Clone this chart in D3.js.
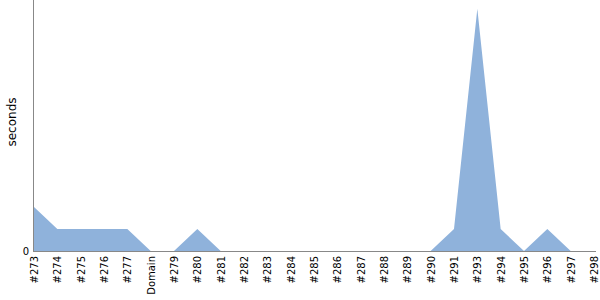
<!DOCTYPE html>
<html>
<head>
<meta charset="utf-8">
<script src="https://cdn.jsdelivr.net/npm/d3@7"></script>
<style>
  body { margin: 0; background: #fff; }
  text { font-family: "DejaVu Sans", sans-serif; }
</style>
</head>
<body>
<svg id="chart" width="600" height="300"></svg>
<script>
// builds shown on the x axis
const builds = ["#273", "#274", "#275", "#276", "#277", "Domain", "#279", "#280", "#281",
  "#282", "#283", "#284", "#285", "#286", "#287", "#288", "#289", "#290", "#291",
  "#293", "#294", "#295", "#296", "#297", "#298"];
// duration in seconds
const seconds = [2, 1, 1, 1, 1, 0, 0, 1, 0,
  0, 0, 0, 0, 0, 0, 0, 0, 0, 1,
  11, 1, 0, 1, 0, 0];
const yTicks = [0];

const svg = d3.select("#chart");
const plotLeft = 33, plotRight = 594, plotTop = 0, plotBottom = 251;

const x = d3.scalePoint().domain(builds).range([plotLeft + 1, plotRight]);
const y = d3.scaleLinear().domain([0, 11.4]).range([plotBottom, plotTop]);

const data = builds.map((b, i) => ({ b: b, v: seconds[i] }));

const area = d3.area()
  .x(d => x(d.b))
  .y0(y(0))
  .y1(d => y(d.v));

svg.append("path")
  .datum(data)
  .attr("fill", "#8fb2db")
  .attr("d", area);

// x axis
const xAxis = svg.append("g")
  .attr("transform", `translate(0,${plotBottom})`)
  .call(d3.axisBottom(x).tickSize(0).tickPadding(0));
xAxis.select(".domain").attr("stroke", "#888").attr("d", `M${plotLeft},0.5H596`);
xAxis.selectAll("text")
  .attr("font-size", 10)
  .attr("fill", "#000")
  .attr("transform", "rotate(-90)")
  .attr("text-anchor", "end")
  .attr("x", -5)
  .attr("y", 0)
  .attr("dy", "0.35em");

// y axis
const yAxis = svg.append("g")
  .attr("transform", `translate(${plotLeft},0)`)
  .call(d3.axisLeft(y).tickValues(yTicks).tickSize(0).tickPadding(4));
yAxis.select(".domain").attr("stroke", "#888").attr("d", `M0.5,${plotTop}V${plotBottom}`);
yAxis.selectAll("text").attr("font-size", 10).attr("fill", "#000");

svg.append("text")
  .attr("transform", "translate(16,122) rotate(-90)")
  .attr("text-anchor", "middle")
  .attr("font-size", 12)
  .attr("fill", "#000")
  .text("seconds");
</script>
</body>
</html>
